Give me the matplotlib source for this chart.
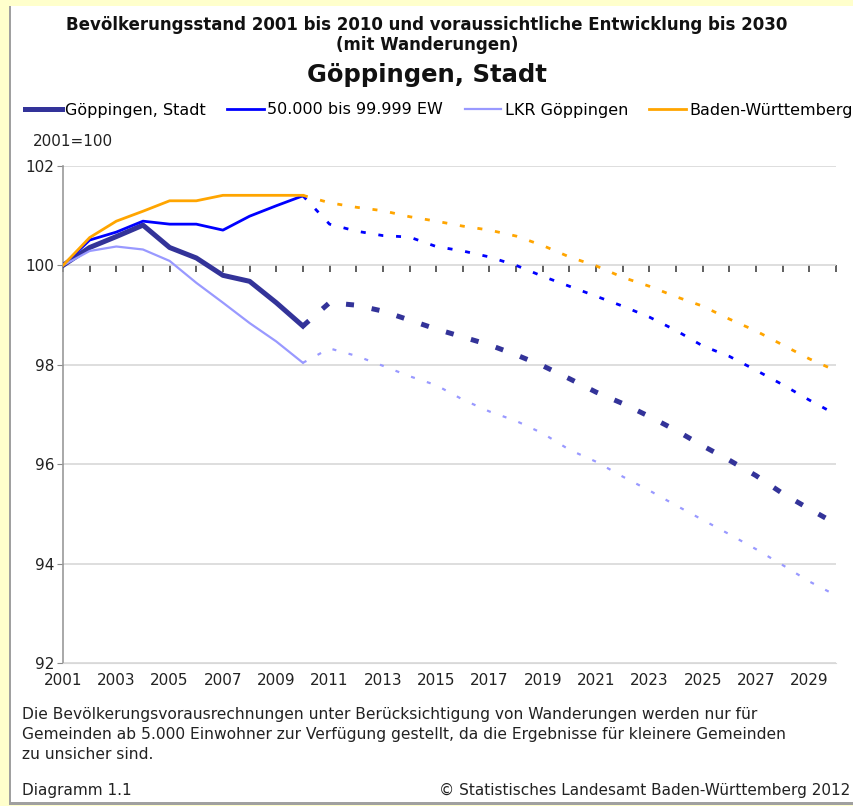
import numpy as np
import matplotlib.pyplot as plt
from matplotlib.patches import Rectangle
from matplotlib.lines import Line2D

plt.rcParams["font.family"] = ["DejaVu Sans"]

# observed 2001-2010, projection 2010-2030 (2001 = 100)
years_obs = list(range(2001, 2011))
years_proj = list(range(2010, 2031))

gp_obs = [100.0, 100.36, 100.58, 100.81, 100.36, 100.15, 99.80, 99.68, 99.25, 98.78]
gp_proj = [98.78, 99.25, 99.20, 99.08, 98.90, 98.72, 98.56, 98.40, 98.20, 97.98, 97.72,
           97.45, 97.22, 96.96, 96.68, 96.37, 96.08, 95.77, 95.41, 95.10, 94.80]

ew_obs = [100.0, 100.51, 100.67, 100.89, 100.83, 100.83, 100.71, 100.99, 101.20, 101.40]
ew_proj = [101.40, 100.83, 100.69, 100.60, 100.57, 100.38, 100.29, 100.17, 100.00, 99.78, 99.58,
           99.38, 99.18, 98.96, 98.69, 98.38, 98.17, 97.89, 97.60, 97.29, 97.00]

lkr_obs = [100.0, 100.29, 100.38, 100.32, 100.09, 99.65, 99.25, 98.84, 98.47, 98.04]
lkr_proj = [98.04, 98.33, 98.18, 97.98, 97.77, 97.59, 97.30, 97.06, 96.87, 96.62, 96.29,
            96.05, 95.75, 95.47, 95.17, 94.88, 94.59, 94.29, 93.97, 93.64, 93.36]

bw_obs = [100.0, 100.56, 100.89, 101.09, 101.30, 101.30, 101.41, 101.41, 101.41, 101.41]
bw_proj = [101.41, 101.26, 101.17, 101.10, 100.98, 100.89, 100.79, 100.71, 100.59, 100.40, 100.17,
           99.99, 99.76, 99.58, 99.37, 99.18, 98.92, 98.68, 98.40, 98.12, 97.88]

labels = ["Göppingen, Stadt", "50.000 bis 99.999 EW", "LKR Göppingen", "Baden-Württemberg"]
colors = ["#333399", "#0000FF", "#9999FF", "#FFA500"]

W, H = 854, 806
fig = plt.figure(figsize=(W / 100, H / 100), dpi=100, facecolor="#FFFFCC")

# white panel with a little shadow
fig.patches.append(Rectangle((9 / W, 1 / H), 845 / W, 799 / H, transform=fig.transFigure,
                             facecolor="#A0A0A0", edgecolor="none", zorder=-10))
fig.patches.append(Rectangle((11 / W, 4 / H), 842 / W, 796 / H, transform=fig.transFigure,
                             facecolor="white", edgecolor="none", zorder=-9))

ax = fig.add_axes([63 / W, (H - 663) / H, (836 - 63) / W, (663 - 166) / H])
ax.set_facecolor("none")
ax.set_xlim(2001, 2030)
ax.set_ylim(92, 102)

ax.set_yticks([92, 94, 96, 98, 100, 102])
ax.yaxis.grid(True, color="#D8D8D8", linewidth=1.2)
ax.set_axisbelow(True)
ax.tick_params(axis="y", length=4, color="#888888", labelsize=11, labelcolor="#222222", pad=2)

ax.set_xticks(range(2001, 2030, 2))
ax.tick_params(axis="x", length=0, labelsize=11, labelcolor="#222222", pad=7)

for s in ["top", "right"]:
    ax.spines[s].set_visible(False)
ax.spines["bottom"].set_color("#D8D8D8")
ax.spines["left"].set_color("#999999")
ax.spines["left"].set_linewidth(1.2)

# axis line at 100 with yearly ticks
sec = ax.secondary_xaxis(0.8)
sec.set_xticks(range(2001, 2031))
sec.tick_params(axis="x", direction="out", length=5, width=1.2, color="#444444", labelbottom=False,
                labeltop=False)
sec.spines["bottom"].set_color("#444444")
sec.spines["bottom"].set_linewidth(1.5)
sec.spines["top"].set_visible(False)
sec.xaxis.set_ticks_position("bottom")
sec.set_xticklabels([])

obs = [gp_obs, ew_obs, lkr_obs, bw_obs]
proj = [gp_proj, ew_proj, lkr_proj, bw_proj]
widths = [3.6, 2.0, 1.6, 2.0]
dashes = [(1.6, 3.6), (1.8, 4.6), (1.8, 5.7), (1.8, 4.6)]
order = [3, 1, 2, 0]
for i in order:
    ax.plot(years_obs, obs[i], color=colors[i], linewidth=widths[i], zorder=3 + i,
            solid_joinstyle="round")
    ax.plot(years_proj, proj[i], color=colors[i], linewidth=widths[i], zorder=3 + i,
            linestyle=(0, dashes[i]), dash_capstyle="butt")

handles = [Line2D([], [], color=c, linewidth=w) for c, w in zip(colors, widths)]
fig.legend(handles, labels, loc="center left", bbox_to_anchor=(25 / W, (H - 110) / H), ncol=4,
           frameon=False, fontsize=11.5, handlelength=2.3, handletextpad=0.2, columnspacing=1.35,
           borderpad=0, borderaxespad=0)

fig.text(0.5, (H - 25) / H, "Bevölkerungsstand 2001 bis 2010 und voraussichtliche Entwicklung bis 2030",
         ha="center", va="center", fontsize=12, fontweight="bold", color="#111111")
fig.text(0.5, (H - 45) / H, "(mit Wanderungen)", ha="center", va="center", fontsize=12,
         fontweight="bold", color="#111111")
fig.text(0.5, (H - 75) / H, "Göppingen, Stadt", ha="center", va="center", fontsize=17.5,
         fontweight="bold", color="#111111")
fig.text(33 / W, (H - 142) / H, "2001=100", ha="left", va="center", fontsize=11, color="#222222")

fig.text(22 / W, (H - 707) / H,
         "Die Bevölkerungsvorausrechnungen unter Berücksichtigung von Wanderungen werden nur für\n"
         "Gemeinden ab 5.000 Einwohner zur Verfügung gestellt, da die Ergebnisse für kleinere Gemeinden\n"
         "zu unsicher sind.", ha="left", va="top", fontsize=11.2, color="#222222",
         linespacing=1.4)
fig.text(22 / W, (H - 790) / H, "Diagramm 1.1", ha="left", va="center", fontsize=11, color="#222222")
fig.text(850 / W, (H - 790) / H, "© Statistisches Landesamt Baden-Württemberg 2012", ha="right",
         va="center", fontsize=11, color="#222222")

fig.savefig("out.png", dpi=100, facecolor=fig.get_facecolor())
